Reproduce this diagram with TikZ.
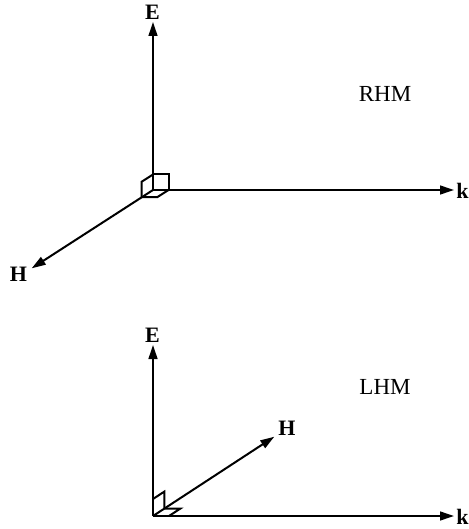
\documentclass[tikz,border=0pt]{standalone}
\usepackage{fontspec}
\setmainfont{Liberation Serif}
\usetikzlibrary{arrows.meta,calc}
\begin{document}
\begin{tikzpicture}[x=0.5pt,y=-0.5pt,
  axis/.style={line width=1pt,-{Triangle[length=7pt,width=4.4pt]}},
  cornermark/.style={line width=1pt,line join=miter},
  lbl/.style={font=\fontsize{11}{13}\selectfont\bfseries,inner sep=0pt},
  titletext/.style={font=\fontsize{11.5}{13}\selectfont,inner sep=0pt}]
\useasboundingbox (0,0) rectangle (469,529);
% ---------- RHM ----------
\coordinate (O1) at (153,190);
\coordinate (E1t) at (153,22);
\coordinate (K1t) at (454,190);
\coordinate (H1t) at (31.7,268.3);
\node[lbl] (E1) at (152.5,12.5) {E};
\node[lbl,anchor=west] (K1) at (456,191) {k};
\node[lbl] (H1) at (18.5,274) {H};
\node[titletext] (R) at (385,94) {RHM};
\draw[axis] (O1) -- (E1t);
\draw[axis] (O1) -- (K1t);
\draw[axis] (O1) -- (H1t);
% cube
\draw[cornermark] ($(O1)+(0,-15.5)$) -- ++(15.5,0) -- ++(0,15.5);
\draw[cornermark] ($(O1)+(0,-15.5)$) -- ++(-11.3,7.2) -- ++(0,15.5) -- ++(15.5,0) -- ++(11.3,-7.2);
% ---------- LHM ----------
\coordinate (O2) at (153,516);
\coordinate (E2t) at (153,345);
\coordinate (K2t) at (454,516);
\coordinate (H2t) at (274.3,436.7);
\node[lbl] (E2) at (152.5,335) {E};
\node[lbl,anchor=west] (K2) at (456,517) {k};
\node[lbl] (H2) at (287,428.5) {H};
\node[titletext] (L) at (385,387) {LHM};
\draw[axis] (O2) -- (E2t);
\draw[axis] (O2) -- (K2t);
\draw[axis] (O2) -- (H2t);
\draw[cornermark] ($(O2)+(0,-17)$) -- ++(11.3,-7.4) -- ++(0,17);
\draw[cornermark] ($(O2)+(11.3,-7.4)$) -- ++(16,0) -- ++(-11.3,7.4);
\end{tikzpicture}
\end{document}
